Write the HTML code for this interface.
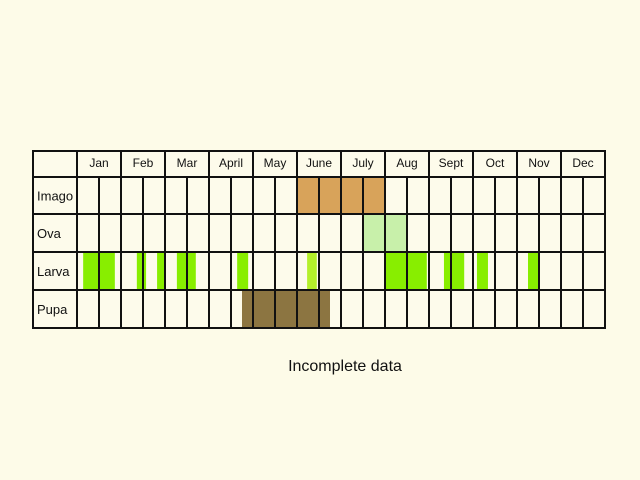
<!DOCTYPE html>
<html><head><meta charset="utf-8"><style>
html,body{margin:0;padding:0;background:#fdfbe8;}
svg{display:block;font-family:"Liberation Sans",sans-serif;}
</style></head><body>
<svg id="c" width="640" height="480">
<rect width="640" height="480" fill="#fdfbe8"/>
</svg>
<script>
const months = ["Jan","Feb","Mar","April","May","June","July","Aug","Sept","Oct","Nov","Dec"];
const stages = ["Imago","Ova","Larva","Pupa"];
const stageColors = ["#d8a35a","#c8f0aa","#88ee00","#8c7541"];
// periods as [start, end] in months (0 = start of Jan)
const imagoPeriods = [[5.0, 6.98]];
const ovaPeriods = [[6.5, 7.48]];
const larvaPeriods = [[0.14,0.86],[1.36,1.57],[1.82,1.98],[2.27,2.7],[3.64,3.89],[5.23,5.45],[7.02,7.95],[8.34,8.8],[9.09,9.34],[10.25,10.52]];
const pupaPeriods = [[3.75, 5.75]];
const larvaSpecial = [5];
const periods = [imagoPeriods, ovaPeriods, larvaPeriods, pupaPeriods];

const svg = document.getElementById('c');
const NS = 'http://www.w3.org/2000/svg';
const x0 = 33, xL = 77, mw = 44;
const rowTops = [151,177,214,252,290,328];
function xm(m){ return xL + m*mw; }
function mk(tag, attrs, parent){
  const e = document.createElementNS(NS, tag);
  for (const k in attrs) e.setAttribute(k, attrs[k]);
  (parent||svg).appendChild(e); return e;
}
const grid = mk('g', {});


mk('rect',{x:x0,y:rowTops[0],width:xm(12)-x0,height:rowTops[5]-rowTops[0],fill:'#fdfbeb'},grid);
// bars
periods.forEach((ps, si) => {
  ps.forEach((p, pi) => {
    let col = stageColors[si];
    if (si===2 && larvaSpecial.includes(pi)) col = '#b4f02a';
    const r = mk('rect',{x:xm(p[0]),y:rowTops[si+1],width:xm(p[1])-xm(p[0]),height:rowTops[si+2]-rowTops[si+1],fill:col});
    
    
  });
});
// grid lines
const gl = mk('g',{stroke:'#111','stroke-width':2,fill:'none'});


mk('rect',{x:x0,y:rowTops[0],width:xm(12)-x0,height:rowTops[5]-rowTops[0]},gl);
rowTops.slice(1,5).forEach(y=>mk('line',{x1:x0,x2:xm(12),y1:y,y2:y},gl));
for (let i=0;i<12;i++){
  mk('line',{x1:xm(i),x2:xm(i),y1:rowTops[0],y2:rowTops[5]},gl);
  mk('line',{x1:xm(i+0.5),x2:xm(i+0.5),y1:rowTops[1],y2:rowTops[5]},gl);
}
months.forEach((m,i)=>{
  const t = mk('text',{x:xm(i+0.5),y:167,'text-anchor':'middle','font-size':12,fill:'#111'});
  t.textContent = m;
  
  
});
stages.forEach((s,i)=>{
  const t = mk('text',{x:37,y:(rowTops[i+1]+rowTops[i+2])/2+5,'font-size':13,fill:'#111'});
  t.textContent = s;
  
  
});
const n = mk('text',{x:345,y:371,'text-anchor':'middle','font-size':16,fill:'#111'});
n.textContent = 'Incomplete data';


</script>
</body></html>
